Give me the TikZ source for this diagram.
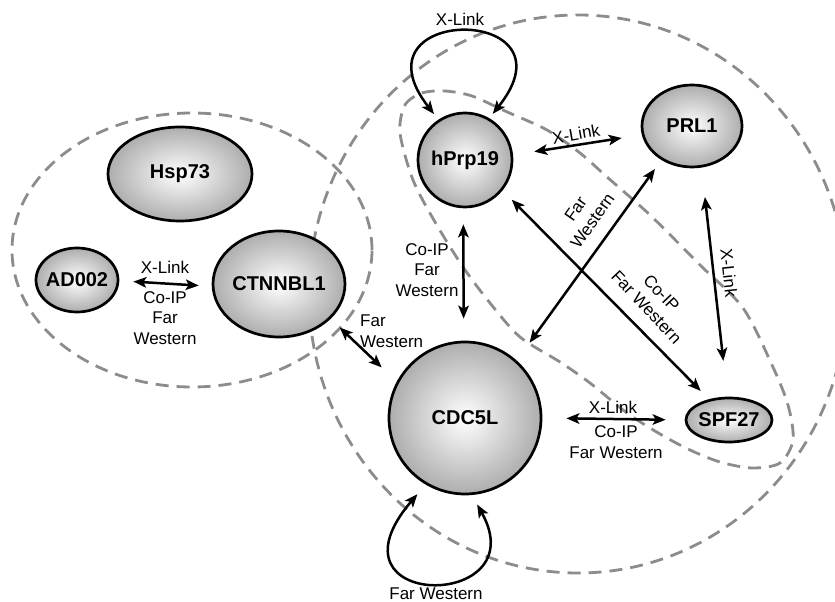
\documentclass[tikz,border=0pt]{standalone}
\usepackage{fontspec}
\setmainfont{Liberation Sans}
\usetikzlibrary{arrows.meta,shapes.geometric,calc}
\definecolor{dashgray}{RGB}{140,140,140}
\begin{document}
\begin{tikzpicture}[x=1pt,y=1pt,
  prot/.style={ellipse, draw=black, line width=2.7pt, shading=radial,
    inner color=white, outer color=black!32, inner sep=0pt,
    font=\fontsize{20}{22}\selectfont\bfseries},
  grp/.style={draw=dashgray, line width=2.8pt, dash pattern=on 13pt off 8pt},
  link/.style={line width=2.5pt,
    {Stealth[length=13pt,width=10.5pt,inset=3pt]}-{Stealth[length=13pt,width=10.5pt,inset=3pt]}},
  lbl/.style={font=\fontsize{17}{20.5}\selectfont, align=center, inner sep=0pt}
]
\useasboundingbox (0,0) rectangle (835,602);
\clip (0,0) rectangle (835,602);

% groups
\draw[grp] (192,352) ellipse [x radius=180, y radius=137];
\draw[grp] (578,308) ellipse [x radius=269, y radius=279];
\draw[grp] plot[smooth cycle, tension=0.5] coordinates {
  (400,469) (405,497) (422,509) (445,511) (472,506) (505,491) (547,472)
  (580,449) (607,425) (650,387) (700,337) (743,294) (772,237) (788,197)
  (793,162) (780,139) (752,134) (720,140) (690,152) (660,168) (627,189)
  (590,219) (560,240) (520,265) (490,299) (463,335) (435,380) (413,422)};

% proteins
\node[prot, minimum width=144pt, minimum height=94pt] (hsp) at (180,428) {\makebox[0pt]{Hsp73}};
\node[prot, minimum width=82pt, minimum height=64pt] (ad) at (77,322) {\makebox[0pt]{AD002}};
\node[prot, minimum width=132pt, minimum height=106pt] (ctn) at (279,318) {\makebox[0pt]{CTNNBL1}};
\node[prot, minimum width=94pt, minimum height=94pt] (hprp) at (465,442) {\makebox[0pt]{hPrp19}};
\node[prot, minimum width=100pt, minimum height=82pt] (prl) at (692,476) {\makebox[0pt]{PRL1}};
\node[prot, minimum width=152pt, minimum height=152pt] (cdc) at (465,184) {\makebox[0pt]{CDC5L}};
\node[prot, minimum width=86pt, minimum height=44pt] (spf) at (729,182) {\makebox[0pt]{SPF27}};

% interactions
\draw[link, shorten <=14pt, shorten >=13pt] (ad.-1) -- (ctn.182);
\draw[link, shorten <=12.5pt, shorten >=20.6pt] (ctn.-34) -- (cdc.152);
\draw[link, shorten <=16pt, shorten >=22pt] (hprp.-92) -- (cdc.91);
\draw[link, shorten <=21.4pt, shorten >=20.4pt] (hprp.6) -- (prl.190);
\draw[link, shorten <=11pt, shorten >=22pt] (prl.228) -- (cdc.48);
\draw[link, shorten <=13pt, shorten >=11.6pt] (hprp.-39) -- (spf.134);
\draw[link, shorten <=29.6pt, shorten >=36pt] (prl.-77) -- (spf.94);
\draw[link, shorten <=24pt, shorten >=19pt] (cdc.east) -- (spf.west);
\draw[link] ([shift={(124:7)}]hprp.124) .. controls +(-86,110) and +(88,110) .. ([shift={(59:5.5)}]hprp.59);
\draw[link] ([shift={(-122:12.5)}]cdc.-122) .. controls +(-100,-117) and +(60,-107) .. ([shift={(-82:10)}]cdc.-82);

% labels
\node[lbl] (t1) at (460,583) {X-Link};
\node[lbl, rotate=10] (t2) at (576,468) {X-Link};
\node[lbl] (t3) at (427,332) {Co-IP\\Far\\Western};
\node[lbl, rotate=55] (t4) at (584,387) {Far\\Western};
\node[lbl, rotate=-46.6] (t5) at (654,302) {Co-IP\\Far Western};
\node[lbl, rotate=-84] (t6) at (729,329) {X-Link};
\node[lbl] (t7) at (613,195) {X-Link};
\node[lbl] (t8) at (616,160) {Co-IP\\Far Western};
\node[lbl, anchor=west, align=left] (t9) at (360,271) {Far\\Western};
\node[lbl] (t10) at (165,335) {X-Link};
\node[lbl] (t11) at (165,284) {Co-IP\\Far\\Western};
\node[lbl] (t12) at (436,8) {Far Western};
\end{tikzpicture}
\end{document}
